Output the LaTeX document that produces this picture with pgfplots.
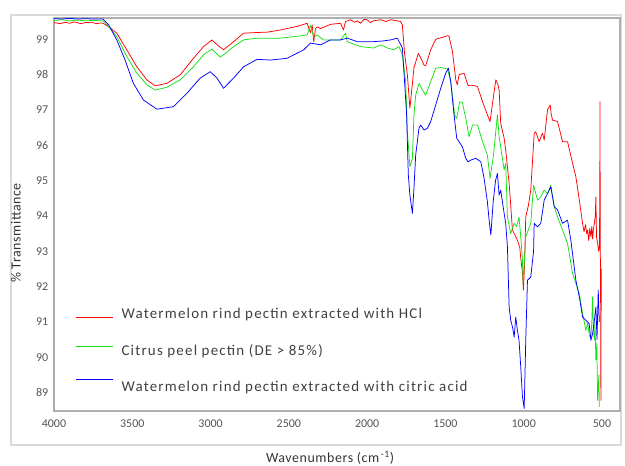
\documentclass[border=0pt]{standalone}
\usepackage{fontspec}
\setmainfont{Carlito}
\newfontfamily\legfont[LetterSpace=8]{Carlito}
\newfontfamily\labfont[LetterSpace=4]{Carlito}
\usepackage{pgfplots}
\pgfplotsset{compat=1.18}
\definecolor{cred}{RGB}{255,0,0}
\definecolor{cgreen}{RGB}{20,225,20}
\definecolor{cblue}{RGB}{0,0,255}
\definecolor{ticklab}{RGB}{85,85,85}
\definecolor{framec}{RGB}{175,175,175}
\definecolor{panelc}{RGB}{218,218,218}
\pgfplotsset{limg/.style={legend image code/.code={\draw[##1, line width=1.3bp] (0bp,#1) -- (37bp,#1);}}}
\begin{document}
\begin{tikzpicture}[x=1bp,y=1bp]
\useasboundingbox (0,0) rectangle (625,466);
\draw[panelc, line width=1.5bp] (11,21) rectangle (621,451);
\begin{axis}[
  at={(54bp,55bp)}, anchor=south west,
  scale only axis, width=566bp, height=393bp,
  x dir=reverse,
  xmin=385, xmax=4000,
  ymin=88.48, ymax=99.6,
  xtick={500,1000,...,4000},
  minor x tick num=4,
  ytick={89,90,...,99},
  minor y tick num=4,
  tick align=center,
  major tick length=2.5bp, minor tick length=1.5bp,
  tick style={black!70, line width=0.6bp},
  axis line style={framec, line width=1.3bp},
  /pgf/number format/assume math mode=true,
  /pgf/number format/1000 sep={},
  ticklabel style={font=\fontsize{12}{14}\selectfont, text=ticklab},
  xticklabel style={yshift=-4bp},
  yticklabel style={xshift=-1bp},
  xtick pos=bottom, ytick pos=left,
  legend style={at={(rel axis cs:0.032,0.272)}, anchor=north west, draw=none, fill=none,
    font=\legfont\fontsize{15}{17}\selectfont, text=black!75, row sep=20bp,
    /tikz/every odd column/.append style={column sep=6bp}},
  legend cell align=left,
  every axis plot/.append style={line width=0.75bp, line join=round},
]
\addplot[cred, limg=-3bp] table {
4000 99.47
3960 99.44
3930 99.48
3900 99.45
3870 99.49
3830 99.44
3800 99.47
3760 99.48
3730 99.44
3700 99.46
3687 99.45
3650 99.35
3599 99.17
3535 98.70
3471 98.22
3407 97.85
3354 97.68
3279 97.75
3194 97.99
3109 98.46
3045 98.79
2991 98.98
2960 98.85
2917 98.70
2853 98.93
2789 99.17
2700 99.19
2637 99.20
2554 99.26
2450 99.36
2383 99.45
2362 99.18
2351 99.40
2341 98.93
2330 99.30
2319 99.35
2298 99.30
2234 99.42
2170 99.45
2151 99.26
2138 99.50
2106 99.55
2080 99.48
2063 99.52
2042 99.45
2020 99.56
2000 99.55
1980 99.47
1959 99.52
1914 99.55
1880 99.50
1850 99.55
1807 99.52
1786 99.50
1775 99.40
1761 98.60
1743 97.99
1727 97.05
1716 97.52
1701 98.19
1673 98.60
1650 98.40
1637 98.27
1626 98.25
1594 98.70
1562 99.00
1520 99.05
1487 99.10
1477 99.08
1455 98.65
1434 97.85
1424 97.71
1413 97.99
1381 98.04
1356 97.69
1330 97.70
1295 97.66
1263 97.23
1232 96.86
1215 96.67
1189 97.52
1178 97.85
1164 97.71
1157 97.56
1147 96.62
1125 96.20
1115 95.86
1093 94.92
1072 93.60
1055 93.45
1040 93.31
1025 93.10
1019 92.80
1008 92.40
1002 91.90
995 92.60
987 93.97
970 94.30
955 94.73
933 96.34
923 96.38
902 96.10
880 96.34
869 96.15
848 97.00
831 97.14
825 96.90
816 96.71
784 96.67
752 96.10
720 96.10
688 95.49
667 95.11
645 94.45
624 93.79
615 93.55
605 93.75
598 93.50
592 93.60
585 93.30
578 93.65
571 93.41
565 93.70
560 93.35
555 93.60
549 93.79
543 94.00
539 94.54
535 93.40
528 93.23
522 93.00
517 93.10
514 94.50
513 97.23
511 93.20
509 91.80
507 88.78
505 92.50
};
\addlegendentry{Watermelon rind pectin extracted with HCl}
\addplot[cgreen, limg=4bp] table {
4000 99.53
3950 99.55
3900 99.52
3850 99.54
3800 99.52
3750 99.53
3687 99.52
3650 99.35
3599 99.07
3535 98.51
3471 98.04
3407 97.71
3354 97.56
3279 97.64
3194 97.85
3109 98.22
3045 98.56
2991 98.72
2938 98.49
2900 98.62
2853 98.79
2789 98.98
2703 99.03
2554 99.03
2450 99.08
2383 99.12
2362 99.40
2341 99.05
2319 99.12
2279 98.98
2170 98.98
2138 99.17
2127 98.93
2042 98.79
1959 98.75
1914 98.84
1870 98.75
1831 98.70
1797 98.79
1775 98.56
1754 97.80
1743 96.38
1727 95.39
1711 95.63
1701 96.86
1690 97.42
1669 97.75
1647 97.56
1626 97.42
1594 97.80
1562 98.18
1530 98.20
1487 98.16
1466 97.80
1441 96.86
1428 96.76
1409 97.23
1392 97.21
1370 96.76
1349 96.24
1327 96.57
1295 96.57
1263 96.10
1232 95.72
1215 95.06
1193 95.72
1168 96.86
1157 96.24
1125 95.30
1115 95.49
1104 93.97
1083 93.50
1061 93.79
1045 93.70
1030 93.97
1019 93.41
1008 92.75
1004 92.09
997 92.60
987 93.41
955 93.79
937 94.87
912 94.45
891 94.54
869 94.73
848 94.63
827 94.87
805 94.26
784 93.97
752 93.60
720 93.22
688 92.37
645 91.80
624 91.24
603 90.76
592 90.96
580 90.60
571 90.57
565 91.00
560 91.71
555 90.80
549 90.48
545 91.00
539 89.92
533 90.40
528 88.78
520 89.50
517 88.60
};
\addlegendentry{Citrus peel pectin (DE > 85\%)}
\addplot[cblue, limg=8bp] table {
4000 99.58
3950 99.57
3900 99.59
3850 99.57
3800 99.58
3750 99.57
3687 99.57
3650 99.40
3599 98.98
3546 98.41
3493 97.75
3429 97.28
3343 97.02
3237 97.09
3151 97.47
3066 97.90
3002 98.08
2959 97.90
2917 97.61
2853 97.90
2789 98.22
2703 98.43
2618 98.41
2511 98.46
2405 98.70
2362 98.89
2298 98.84
2234 98.98
2170 98.98
2127 99.03
2063 98.93
1959 98.93
1900 98.95
1850 98.98
1807 99.03
1775 98.75
1761 97.80
1748 96.86
1737 95.16
1727 94.59
1711 94.07
1701 94.78
1690 95.72
1669 96.48
1658 96.57
1637 96.43
1615 96.48
1594 96.67
1562 97.14
1530 97.61
1498 98.04
1481 98.18
1466 97.80
1445 96.86
1428 96.20
1413 96.10
1392 95.96
1370 95.63
1356 95.53
1338 95.58
1306 95.63
1274 95.53
1253 95.06
1232 94.40
1221 93.88
1210 93.46
1195 94.40
1180 95.00
1168 95.20
1157 94.59
1147 94.73
1125 94.07
1115 93.79
1104 93.12
1093 91.42
1083 91.05
1072 90.86
1061 90.57
1051 91.14
1040 90.76
1030 90.48
1019 89.73
1008 88.88
997 88.55
987 90.48
976 92.18
955 92.27
937 93.00
933 93.79
912 93.69
891 93.79
869 94.45
848 94.63
827 94.82
805 94.26
784 94.17
752 93.79
720 93.88
699 93.31
667 92.18
645 91.71
624 91.14
603 91.05
582 90.95
571 90.48
560 90.67
550 91.00
539 91.42
532 90.50
524 91.90
517 91.00
};
\addlegendentry{Watermelon rind pectin extracted with citric acid}
\end{axis}
\node[rotate=90, font=\labfont\fontsize{14}{16}\selectfont, text=black!80] at (16,233) {\% Transmittance};
\node[font=\labfont\fontsize{14}{16}\selectfont, text=black!80] at (330,8) {Wavenumbers (cm\textsuperscript{\,-1})};
\end{tikzpicture}
\end{document}
